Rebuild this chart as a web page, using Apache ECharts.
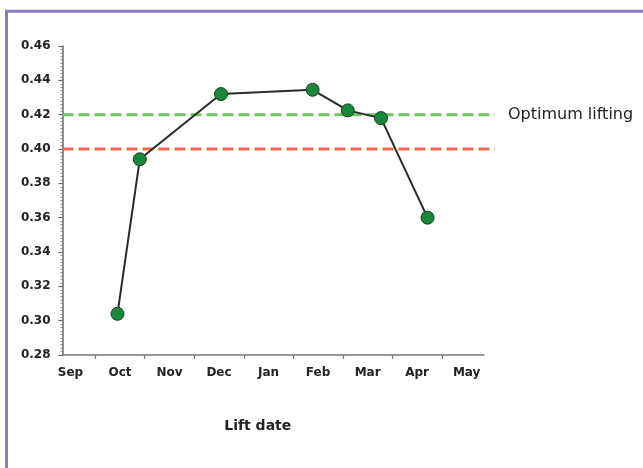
<!DOCTYPE html>
<html>
<head>
<meta charset="utf-8">
<script src="https://cdn.jsdelivr.net/npm/echarts@6/dist/echarts.min.js"></script>
<style>
html,body{margin:0;padding:0;background:#fff;}
#chart{width:643px;height:468px;}
</style>
</head>
<body>
<div id="chart"></div>
<script>
// Month labels (x position 0 = Sep, 1 = Oct, ...)
var months = ['Sep', 'Oct', 'Nov', 'Dec', 'Jan', 'Feb', 'Mar', 'Apr', 'May'];
var monthPositions = [0, 1, 2, 3, 4, 5, 6, 7, 8];
var monthBoundaries = [0.5, 1.5, 2.5, 3.5, 4.5, 5.5, 6.5, 7.5];
// Lift dates (in months from Sep) and measured values
var liftDates = [0.95, 1.40, 3.04, 4.89, 5.60, 6.27, 7.21];
var liftValues = [0.304, 0.394, 0.432, 0.4345, 0.4225, 0.418, 0.360];
// Reference thresholds
var optimumLevel = 0.42;
var minimumLevel = 0.40;
var optimumLabel = 'Optimum lifting';
var yTicks = [0.28, 0.30, 0.32, 0.34, 0.36, 0.38, 0.40, 0.42, 0.44, 0.46];

var chart = echarts.init(document.getElementById('chart'), null, {renderer: 'canvas'});

var labelFont = {fontFamily: 'DejaVu Sans', fontWeight: 'bold', fontSize: 12, color: '#222'};

var option = {
  animation: false,
  backgroundColor: '#fff',
  graphic: [{
    type: 'polyline',
    shape: {points: [[6.5, 470], [6.5, 11.3], [645, 11.3]]},
    style: {stroke: '#8c7bc4', lineWidth: 3, fill: null},
    silent: true
  }],
  grid: [
    {left: 62.5, right: 159, top: 46, bottom: 113},
    {left: 62.5, right: 148, top: 46, bottom: 113}
  ],
  xAxis: [{
    type: 'value', gridIndex: 0,
    min: -0.16, max: 8.35,
    axisLine: {show: true, onZero: false, lineStyle: {color: '#777', width: 1.5}},
    axisTick: {show: true, length: 4, customValues: monthBoundaries, lineStyle: {color: '#777', width: 1.2}},
    axisLabel: Object.assign({
      customValues: monthPositions, margin: 12,
      formatter: function (v) { return months[Math.round(v)]; }
    }, labelFont),
    splitLine: {show: false},
    name: 'Lift date', nameLocation: 'middle', nameGap: 64,
    nameTextStyle: {fontFamily: 'DejaVu Sans', fontWeight: 'bold', fontSize: 14, color: '#222', padding: [0, 31, 0, 0]}
  }, {
    type: 'value', gridIndex: 1, min: 0, max: 1, show: false
  }],
  yAxis: [{
    type: 'value', gridIndex: 0,
    min: 0.28, max: 0.46, interval: 0.02,
    axisLine: {show: true, onZero: false, lineStyle: {color: '#666', width: 1.5}},
    axisTick: {show: true, length: 4, lineStyle: {color: '#666', width: 1.2}},
    minorTick: {show: true, splitNumber: 10, length: 2, lineStyle: {color: '#888', width: 1}},
    axisLabel: Object.assign({
      margin: 12,
      formatter: function (v) { return v.toFixed(2); }
    }, labelFont),
    splitLine: {show: false}
  }, {
    type: 'value', gridIndex: 1, min: 0.28, max: 0.46, show: false
  }],
  series: [{
    type: 'line', xAxisIndex: 1, yAxisIndex: 1, z: 1,
    data: [[0, minimumLevel], [1, minimumLevel]],
    showSymbol: false, symbol: 'none',
    lineStyle: {color: '#f26a44', width: 3, type: [11, 5]}
  }, {
    type: 'line', xAxisIndex: 1, yAxisIndex: 1, z: 1,
    data: [[0, optimumLevel], [1, optimumLevel]],
    showSymbol: false, symbol: 'none',
    lineStyle: {color: '#6cc65e', width: 3, type: [11, 5]},
    endLabel: {show: true, formatter: optimumLabel, distance: 13,
      fontFamily: 'DejaVu Sans', fontSize: 16, color: '#222'}
  }, {
    type: 'line', xAxisIndex: 0, yAxisIndex: 0, z: 3,
    data: liftDates.map(function (d, i) { return [d, liftValues[i]]; }),
    symbol: 'circle', symbolSize: 13,
    lineStyle: {color: '#2a2a2a', width: 2},
    itemStyle: {color: '#178a3a', borderColor: '#1c3a20', borderWidth: 1}
  }]
};
chart.setOption(option);
</script>
</body>
</html>
